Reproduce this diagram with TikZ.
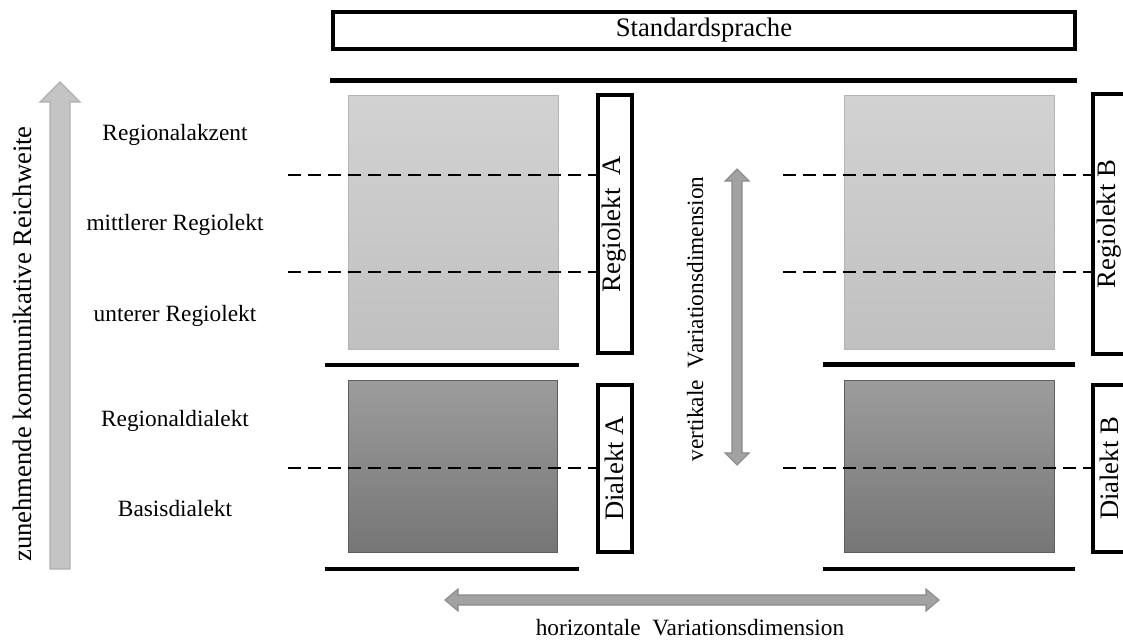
\documentclass[tikz,border=0pt]{standalone}
\usepackage{fontspec}
\setmainfont{Liberation Serif}
\definecolor{lighttop}{HTML}{D2D2D2}
\definecolor{lightbot}{HTML}{C0C0C0}
\definecolor{lightedge}{HTML}{B4B4B4}
\definecolor{darktop}{HTML}{9C9C9C}
\definecolor{darkbot}{HTML}{767676}
\definecolor{darkedge}{HTML}{5E5E5E}
\definecolor{bigarrow}{HTML}{C4C4C4}
\definecolor{bigarrowedge}{HTML}{B0B0B0}
\definecolor{dimarrow}{HTML}{A2A2A2}
\definecolor{dimarrowedge}{HTML}{8A8A8A}
\tikzset{
  framebox/.style={draw=black, line width=3pt, fill=white, rectangle, inner sep=0pt, font=\fontsize{20}{24}\selectfont},
  sidebox/.style={framebox, rotate=90},
  levellabel/.style={anchor=base, inner sep=0pt, font=\fontsize{17.5}{21}\selectfont},
  biglabel/.style={anchor=base, inner sep=0pt, font=\fontsize{20}{24}\selectfont},
  sepline/.style={line width=3.2pt},
  levelline/.style={line width=2.1pt, dash pattern=on 10pt off 5pt},
  lightfield/.style={draw=lightedge, line width=0.6pt, top color=lighttop, bottom color=lightbot},
  darkfield/.style={draw=darkedge, line width=0.6pt, top color=darktop, bottom color=darkbot},
  reacharrow/.style={fill=bigarrow, draw=bigarrowedge, line width=0.8pt},
  dimarrowstyle/.style={fill=dimarrow, draw=dimarrowedge, line width=0.8pt},
}
\begin{document}
\begin{tikzpicture}[x=0.75pt,y=-0.75pt]
\useasboundingbox (0,0) rectangle (1123,639);
\fill[white] (0,0) rectangle (1123,639);
\clip (0,0) rectangle (1123,639);

% Standardsprache
\node[framebox, minimum width=556.5pt, minimum height=27.75pt] (std) at (704,30.5) {Standardsprache};

% separating lines
\coordinate (topL) at (330,80.5);
\coordinate (topR) at (1077,80.5);
\draw[sepline] (topL) -- (topR);
\coordinate (midAL) at (325,365);
\coordinate (midAR) at (579,365);
\coordinate (midBL) at (823,364.5);
\coordinate (midBR) at (1075,364.5);
\draw[sepline] (midAL) -- (midAR);
\draw[sepline] (midBL) -- (midBR);
\coordinate (botAL) at (325,569);
\coordinate (botAR) at (579,569);
\coordinate (botBL) at (823,569);
\coordinate (botBR) at (1075,569);
\draw[sepline] (botAL) -- (botAR);
\draw[sepline] (botBL) -- (botBR);

% fields
\path[lightfield] (348,95) rectangle (558,349);
\path[lightfield] (844,95) rectangle (1054,349);
\path[darkfield] (348,380) rectangle (557,552);
\path[darkfield] (844,380) rectangle (1054,552);

% side boxes
\node[sidebox, minimum width=193.5pt, minimum height=25.5pt] (regA) at (614.5,224) {Regiolekt\ \ A};
\node[sidebox, minimum width=125.25pt, minimum height=25.5pt] (dialA) at (614.5,468.5) {Dialekt A};
\node[sidebox, minimum width=195pt, minimum height=25.5pt] (regB) at (1109.5,224) {Regiolekt B};
\node[sidebox, minimum width=125.25pt, minimum height=25.5pt] (dialB) at (1109.5,468.5) {Dialekt B};

% dashed level lines
\coordinate (a1) at (288,175);
\coordinate (a2) at (288,272);
\coordinate (a3) at (288,468);
\coordinate (b1) at (783,175);
\coordinate (b2) at (783,272);
\coordinate (b3) at (783,468);
\draw[levelline] (a1) -- (a1 -| regA.north);
\draw[levelline] (a2) -- (a2 -| regA.north);
\draw[levelline] (a3) -- (a3 -| dialA.north);
\draw[levelline] (b1) -- (b1 -| regB.north);
\draw[levelline] (b2) -- (b2 -| regB.north);
\draw[levelline] (b3) -- (b3 -| dialB.north);

% big reach arrow
\path[reacharrow] (50,569) -- (70,569) -- (70,102) -- (80,102) -- (60,82) -- (40,102) -- (50,102) -- cycle;

% vertical dimension arrow
\path[dimarrowstyle] (737,169) -- (749,181) -- (742,181) -- (742,453) -- (749,453) -- (737,465)
  -- (725,453) -- (732,453) -- (732,181) -- (725,181) -- cycle;

% horizontal dimension arrow
\path[dimarrowstyle] (445,600) -- (458,589) -- (458,595) -- (926,595) -- (926,589) -- (939,600)
  -- (926,611) -- (926,605) -- (458,605) -- (458,611) -- cycle;

% labels
\node[levellabel] (l1) at (175,140) {Regionalakzent};
\node[levellabel] (l2) at (175,230) {mittlerer Regiolekt};
\node[levellabel] (l3) at (175,321) {unterer Regiolekt};
\node[levellabel] (l4) at (175,426.5) {Regionaldialekt};
\node[levellabel] (l5) at (175,516) {Basisdialekt};
\node[levellabel] (htxt) at (690,635) {horizontale\ \ Variationsdimension};
\node[levellabel, rotate=90] (vtxt) at (703,319) {vertikale\ \ Variationsdimension};
\node[biglabel, rotate=90] (reach) at (31.5,344) {zunehmende kommunikative Reichweite};
\end{tikzpicture}
\end{document}
